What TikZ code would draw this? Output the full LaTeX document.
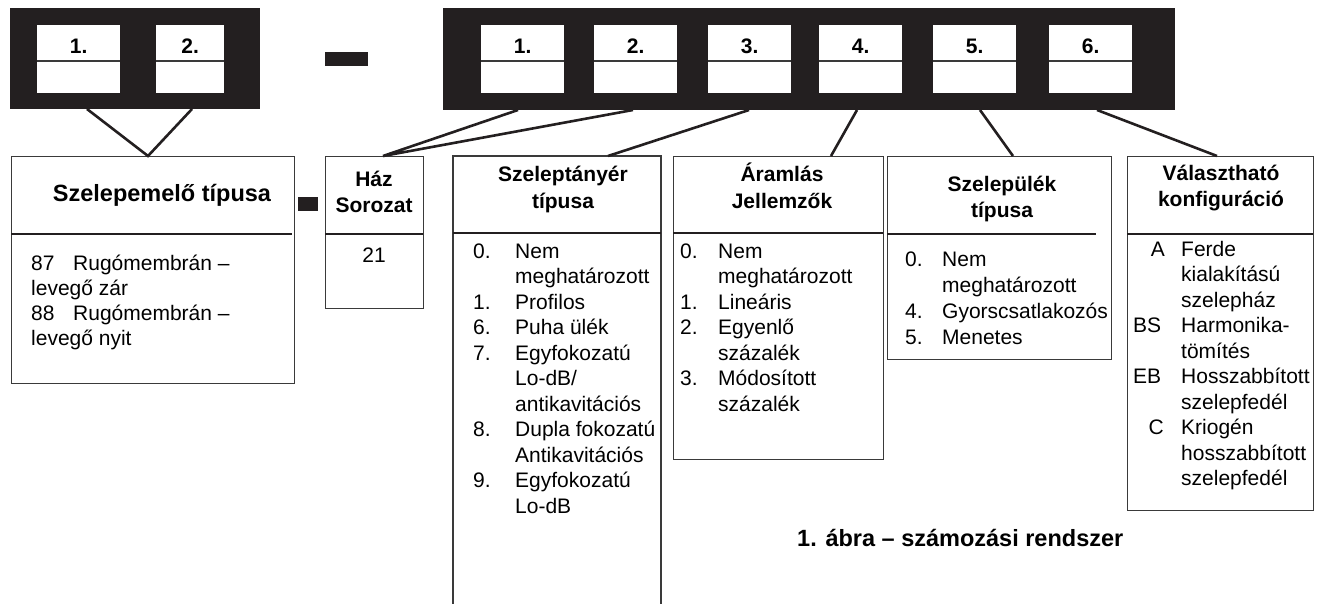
\documentclass[tikz,border=0pt]{standalone}
\usepackage{fontspec}
\setmainfont{Liberation Sans}
\usetikzlibrary{calc}
\definecolor{ink}{HTML}{231F20}
\definecolor{rule}{HTML}{3A3A3A}
\tikzset{
  blkbox/.style={fill=ink, draw=none, inner sep=0pt, anchor=north west},
  cellbox/.style={fill=white, draw=none, inner sep=0pt, anchor=north west, minimum height=68pt},
  conn/.style={draw=ink, line width=2.6pt},
  frame/.style={draw=rule, line width=1.3pt, inner sep=0pt, anchor=north west},
  divider/.style={draw=ink, line width=1.6pt},
  celldiv/.style={draw=rule, line width=1.1pt},
  hd/.style={font=\fontsize{21}{25}\selectfont\bfseries, anchor=base, inner sep=0pt},
  bighd/.style={font=\fontsize{23.5}{28}\selectfont\bfseries, anchor=base, inner sep=0pt},
  tx/.style={font=\fontsize{21}{25}\selectfont, anchor=base west, inner sep=0pt},
  txe/.style={font=\fontsize{21}{25}\selectfont, anchor=base east, inner sep=0pt},
  txc/.style={font=\fontsize{21}{25}\selectfont, anchor=base, inner sep=0pt},
}
\begin{document}
\begin{tikzpicture}[x=1pt,y=-1pt]
\useasboundingbox (0,0) rectangle (1319,604);
% ---------- black blocks ----------
\node[blkbox, minimum width=250pt, minimum height=101pt] (blkL) at (10,8) {};
\node[blkbox, minimum width=732pt, minimum height=102pt] (blkR) at (443,8) {};
\node[blkbox, minimum width=43pt, minimum height=14pt] (dashA) at (325,52) {};
\node[blkbox, minimum width=20pt, minimum height=14pt] (dashB) at (298,197) {};
% ---------- cells ----------
\foreach \nm/\x/\w/\lab in {L1/37/83/1., L2/156/68/2., R1/481/83/1., R2/594/83/2., R3/708/83/3., R4/819/83/4., R5/933/83/5., R6/1049/83/6.}{
  \node[cellbox, minimum width=\w pt] (c\nm) at (\x,25) {};
  \draw[celldiv] (c\nm.west |- 0,61) -- (c\nm.east |- 0,61);
  \node[hd] (t\nm) at ($(c\nm.north)+(0,29)$) {\lab};
}
% ---------- frames ----------
\node[frame, minimum width=283pt, minimum height=227pt] (boxA) at (11,156) {};
\draw[divider] (11,234) -- (292,234);
\node[frame, minimum width=98pt, minimum height=152pt] (boxB) at (325,156) {};
\draw[divider] (325,234) -- (423,234);
\coordinate (boxCnw) at (453,156);
\coordinate (boxCne) at (661,156);
\coordinate (boxCsw) at (453,606);
\coordinate (boxCse) at (661,606);
\draw[draw=rule, line width=1.3pt] (boxCsw) -- (boxCnw) -- (boxCne) -- (boxCse);
\draw[divider] (453,233) -- (661,233);
\node[frame, minimum width=210pt, minimum height=303pt] (boxD) at (673,156) {};
\draw[divider] (673,233) -- (883,233);
\node[frame, minimum width=224pt, minimum height=203pt] (boxE) at (887,156) {};
\draw[divider] (887,234) -- (1096,234);
\node[frame, minimum width=186pt, minimum height=354pt] (boxF) at (1127,156) {};
\draw[divider] (1127,234) -- (1313,234);
% ---------- connectors ----------
\coordinate (l1) at (87,109);
\coordinate (l2) at (192,109);
\coordinate (aTop) at (148,156);
\coordinate (r1) at (518,110);
\coordinate (r2) at (633,110);
\coordinate (bTop) at (383,156);
\coordinate (r3) at (749,110);
\coordinate (cTop) at (608,156);
\coordinate (r4) at (857,110);
\coordinate (dTop) at (831,156);
\coordinate (r5) at (980,110);
\coordinate (eTop) at (1013,156);
\coordinate (r6) at (1097,110);
\coordinate (fTop) at (1217,156);
\draw[conn] (l1) -- (aTop) -- (l2);
\draw[conn] (r1) -- (bTop) -- (r2);
\draw[conn] (r3) -- (cTop);
\draw[conn] (r4) -- (dTop);
\draw[conn] (r5) -- (eTop);
\draw[conn] (r6) -- (fTop);
% ---------- titles ----------
\node[bighd] (hA) at (162,201) {Szelepemelő típusa};
\node[hd] (hB1) at (374,187) {Ház};
\node[hd] (hB2) at (374,212) {Sorozat};
\node[hd] (hC1) at (563,182) {Szeleptányér};
\node[hd] (hC2) at (563,208) {típusa};
\node[hd] (hD1) at (782,182) {Áramlás};
\node[hd] (hD2) at (782,208) {Jellemzők};
\node[hd] (hE1) at (1002,192) {Szelepülék};
\node[hd] (hE2) at (1002,217) {típusa};
\node[hd] (hF1) at (1221,181) {Választható};
\node[hd] (hF2) at (1221,207) {konfiguráció};
% ---------- box A ----------
\node[tx] (a1n) at (31,270) {87};
\node[tx] (a1t) at (73,270) {Rugómembrán –};
\node[tx] (a1u) at (31,295) {levegő zár};
\node[tx] (a2n) at (31,320) {88};
\node[tx] (a2t) at (73,320) {Rugómembrán –};
\node[tx] (a2u) at (31,345) {levegő nyit};
% ---------- box B ----------
\node[txc] (b1) at (374,262) {21};
% ---------- box C ----------
\foreach \t [count=\i from 0] in {Nem, meghatározott, Profilos, Puha ülék, Egyfokozatú, Lo-dB/, antikavitációs, Dupla fokozatú, Antikavitációs, Egyfokozatú, Lo-dB}
  \node[tx] (cT\i) at (515,258+\i*25.5) {\t};
\foreach \n/\i in {0./0, 1./2, 6./3, 7./4, 8./7, 9./9}
  \node[tx] (cN\i) at (473,258+\i*25.5) {\n};
% ---------- box D ----------
\foreach \t [count=\i from 0] in {Nem, meghatározott, Lineáris, Egyenlő, százalék, Módosított, százalék}
  \node[tx] (dT\i) at (718,258+\i*25.5) {\t};
\foreach \n/\i in {0./0, 1./2, 2./3, 3./5}
  \node[tx] (dN\i) at (680,258+\i*25.5) {\n};
% ---------- box E ----------
\foreach \t [count=\i from 0] in {Nem, meghatározott, Gyorscsatlakozós, Menetes}
  \node[tx] (eT\i) at (942,266+\i*26) {\t};
\foreach \n/\i in {0./0, 4./2, 5./3}
  \node[tx] (eN\i) at (905,266+\i*26) {\n};
% ---------- box F ----------
\foreach \t [count=\i from 0] in {Ferde, kialakítású, szelepház, Harmonika-, tömítés, Hosszabbított, szelepfedél, Kriogén, hosszabbított, szelepfedél}
  \node[tx] (fT\i) at (1181,256+\i*25.5) {\t};
\node[txe] (fA) at (1165,256) {A};
\node[tx] (fBS) at (1133,256+3*25.5) {BS};
\node[tx] (fEB) at (1133,256+5*25.5) {EB};
\node[txe] (fC) at (1164,256+7*25.5) {C};
% ---------- caption ----------
\node[font=\fontsize{23.5}{28}\selectfont\bfseries, anchor=base west, inner sep=0pt] (cap) at (797,546) {1. ábra – számozási rendszer};
\end{tikzpicture}
\end{document}
